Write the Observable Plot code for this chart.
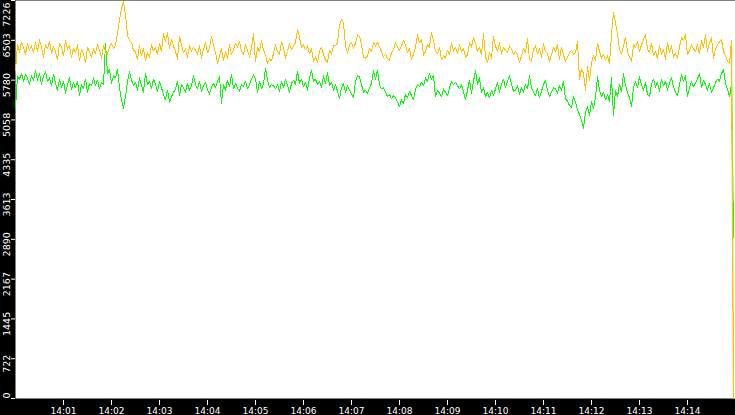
<!DOCTYPE html>
<html>
<head>
<meta charset="utf-8">
<script src="https://cdn.jsdelivr.net/npm/d3@7"></script>
<script src="https://cdn.jsdelivr.net/npm/@observablehq/plot@0.6"></script>
<style>
  html, body { margin: 0; padding: 0; background: #000; }
  #chart { width: 735px; height: 415px; overflow: hidden; }
</style>
</head>
<body>
<div id="chart"></div>
<script>
// ---- data ----
const startLabel = "14:00";
const endLabel = "14:15";
const stepMs = 2500;

const seriesA = [ // orange
5960,6430,6290,6470,6380,6250,6450,6320,6400,6280,
6460,6300,6510,6380,6200,6420,6350,6480,6270,6390,
6300,6150,6450,6380,6220,6500,6340,6410,6190,6360,
6280,6420,6140,6330,6250,6100,6380,6290,6200,6350,
6260,6420,6330,6180,6400,6300,6250,6380,6450,6350,
6410,6630,6870,7085,7210,6960,6594,6500,6467,6320,
6300,6150,6400,6220,6350,6130,6280,6200,6420,6310,
6380,6250,6450,6300,6620,6480,6640,6350,6520,6400,
6300,6160,6580,6420,6280,6350,6200,6400,6300,6380,
6320,6250,6400,6180,6340,6460,6280,6360,6570,6420,
6280,6080,6220,6350,6140,6300,6180,6420,6250,6330,
6450,6380,6480,6300,6250,6420,6330,6200,6360,6620,
6110,6380,6300,6500,6330,6240,6080,6170,6130,6260,
6420,6300,6250,6480,6380,6180,6300,6450,6340,6400,
6460,6700,6560,6380,6420,6330,6400,6260,6350,6120,
6200,6100,6300,6380,6250,6150,6100,6320,6250,6400,
6400,6460,6780,6880,6820,6400,6270,6420,6470,6360,
6450,6600,6580,6420,6200,6180,6220,6360,6300,6460,
6400,6470,6380,6300,6200,6250,6170,6140,6280,6340,
6460,6380,6320,6400,6500,6420,6280,6360,6160,6250,
6380,6600,6460,6520,6230,6300,6420,6380,6640,6500,
6300,6260,6380,6150,6220,6180,6320,6240,6460,6300,
6380,6260,6420,6300,6350,6200,6240,6460,6380,6560,
6450,6300,6380,6250,6620,6200,6100,6280,6180,6580,
6400,6300,6460,6250,6380,6320,6280,6400,6350,6250,
6300,6240,6100,6220,6360,6280,6540,6150,6120,6340,
6400,6260,6350,6200,6440,6300,6260,6120,6240,6380,
6300,6420,6160,6380,6240,6120,6200,6280,6320,6250,
6280,6480,5800,5980,5900,5600,6020,5780,6100,6230,
6140,6450,6300,6180,6250,6140,6220,6080,6600,7010,
6820,6620,6320,6250,6400,6560,6300,6200,6120,6420,
6380,6480,6300,6420,6520,6600,6350,6280,6450,6220,
6300,6180,6400,6250,6340,6160,6460,6280,6400,6200,
6260,6180,6380,6560,6500,6600,6240,6320,6420,6350,
6300,6420,6260,6500,6380,6600,6300,6450,6560,6180,
6350,6420,6480,6520,6300,6220,6120,6080,6500,0
];

const seriesB = [ // green
5270,5850,5800,5900,5760,5880,5820,5700,5860,5780,
5950,5780,5900,5700,5850,5930,5760,5820,5680,5890,
5720,5600,5800,5650,5760,5540,5700,5820,5610,5740,
5640,5760,5500,5700,5620,5800,5560,5720,5680,5820,
5680,5780,5620,5740,5700,6440,5900,5980,5720,5860,
5820,5980,5650,5420,5270,5480,5760,5930,5780,5690,
5740,5600,5820,5680,5560,5900,5700,5760,5620,5800,
5700,5580,5760,5640,5520,5420,5600,5380,5480,5560,
5620,5760,5500,5700,5640,5560,5720,5600,5680,5860,
5700,5620,5760,5580,5680,5740,5600,5520,5660,5720,
5640,5760,5840,5360,5700,5600,5780,5660,5880,5620,
5720,5640,5580,5700,5660,5760,5620,5700,5800,5880,
5800,5560,5760,5620,5720,5990,5780,5640,5700,5680,
5620,5700,5580,5760,5640,5800,5680,5560,5720,5780,
5700,5940,5720,5800,5660,5740,5600,5820,5960,5760,
5800,5700,5760,5640,5860,5720,5920,5680,5740,5600,
5700,5580,5450,5640,5720,5560,5680,5600,5520,5460,
5760,5860,5840,5700,5560,5600,5540,5640,5720,5950,
5800,5960,5700,5620,5640,5560,5480,5520,5440,5500,
5460,5380,5300,5420,5360,5520,5460,5580,5500,5420,
5620,5700,5660,5740,5680,5820,5760,5900,5800,5860,
5480,5600,5540,5480,5620,5560,5500,5640,5760,5700,
5740,5680,5620,5700,5560,5420,5600,5780,5540,5760,
5950,5700,5820,5560,5640,5480,5560,5460,5600,5500,
5620,5740,5560,5700,5800,5640,5760,5860,5700,5580,
5600,5680,5520,5640,5560,5700,5620,5860,5640,5560,
5500,5620,5460,5580,5700,5780,5600,5480,5560,5640,
5620,5540,5680,5600,5760,5440,5400,5320,5280,5480,
5380,5250,5150,5050,4910,5200,5300,5140,5400,5260,
5460,5840,5600,5480,5560,5420,5520,5400,5820,5140,
5600,5480,5700,5580,5900,5680,5560,5460,5300,5640,
5760,5640,5840,5700,5600,5740,5520,5480,5700,5800,
5650,5740,5580,5800,5680,5760,5600,5720,5820,5660,
5560,5500,5700,5880,5760,5860,5480,5640,5760,5660,
5720,5800,5900,5640,5780,5700,5600,5720,5560,5640,
5740,5800,5760,5900,5980,5720,5620,5480,5700,2920
];

const xTickLabels = ["14:01","14:02","14:03","14:04","14:05","14:06","14:07",
                     "14:08","14:09","14:10","14:11","14:12","14:13","14:14"];
const yTickLabels = ["0","722","1445","2167","2890","3613","4335","5058","5780","6503","7226"];

// ---- build ----
const parseT = d3.utcParse("%H:%M");
const t0 = parseT(startLabel);
const t1 = parseT(endLabel);
const rowsA = seriesA.map((v, i) => ({t: new Date(+t0 + i * stepMs), v}));
const rowsB = seriesB.map((v, i) => ({t: new Date(+t0 + i * stepMs), v}));
const xTicks = xTickLabels.map(parseT);
const yTicks = yTickLabels.map(Number);
const yMax = yTicks[yTicks.length - 1];
const font = "DejaVu Sans";
const orange = "#FFC000", green = "#00FF00";

const chart = Plot.plot({
  width: 735,
  height: 415,
  marginLeft: 15,
  marginRight: 0,
  marginTop: 0,
  marginBottom: 17,
  style: {background: "#000", color: "#fff", fontFamily: font},
  x: {type: "utc", domain: [t0, t1]},
  y: {domain: [0, yMax]},
  marks: [
    Plot.frame({fill: "#fff", stroke: null}),
    Plot.axisX(xTicks, {anchor: "bottom", tickSize: 5, tickPadding: 2, dy: 2,
      tickFormat: d3.utcFormat("%H:%M"), label: null, fontSize: 9, fontFamily: font}),
    Plot.axisY(yTicks, {anchor: "left", tickSize: 4, tickFormat: () => "", label: null}),
    Plot.text(yTickLabels.slice(1, -1), {y: d => +d, text: d => d, frameAnchor: "left",
      dx: -9, dy: 5, rotate: -90, textAnchor: "middle", lineAnchor: "middle",
      fill: "#fff", fontSize: 9.5, fontFamily: font}),
    Plot.text(yTickLabels.slice(0, 1), {y: d => +d, text: d => d, frameAnchor: "left",
      dx: -9, dy: 0, rotate: -90, textAnchor: "start", lineAnchor: "middle",
      fill: "#fff", fontSize: 9.5, fontFamily: font}),
    Plot.text(yTickLabels.slice(-1), {y: d => +d, text: d => d, frameAnchor: "left",
      dx: -9, dy: 2, rotate: -90, textAnchor: "end", lineAnchor: "middle",
      fill: "#fff", fontSize: 9.5, fontFamily: font}),
    Plot.line(rowsB, {x: "t", y: "v", stroke: green, strokeWidth: 1, shapeRendering: "crispEdges"}),
    Plot.line(rowsB.slice(-2), {x: "t", y: "v", stroke: green, strokeWidth: 1.2}),
    Plot.line(rowsA, {x: "t", y: "v", stroke: orange, strokeWidth: 1, shapeRendering: "crispEdges"}),
    Plot.line(rowsA.slice(-2), {x: "t", y: "v", stroke: orange, strokeWidth: 1.2})
  ]
});
document.getElementById("chart").appendChild(chart);
</script>
</body>
</html>
